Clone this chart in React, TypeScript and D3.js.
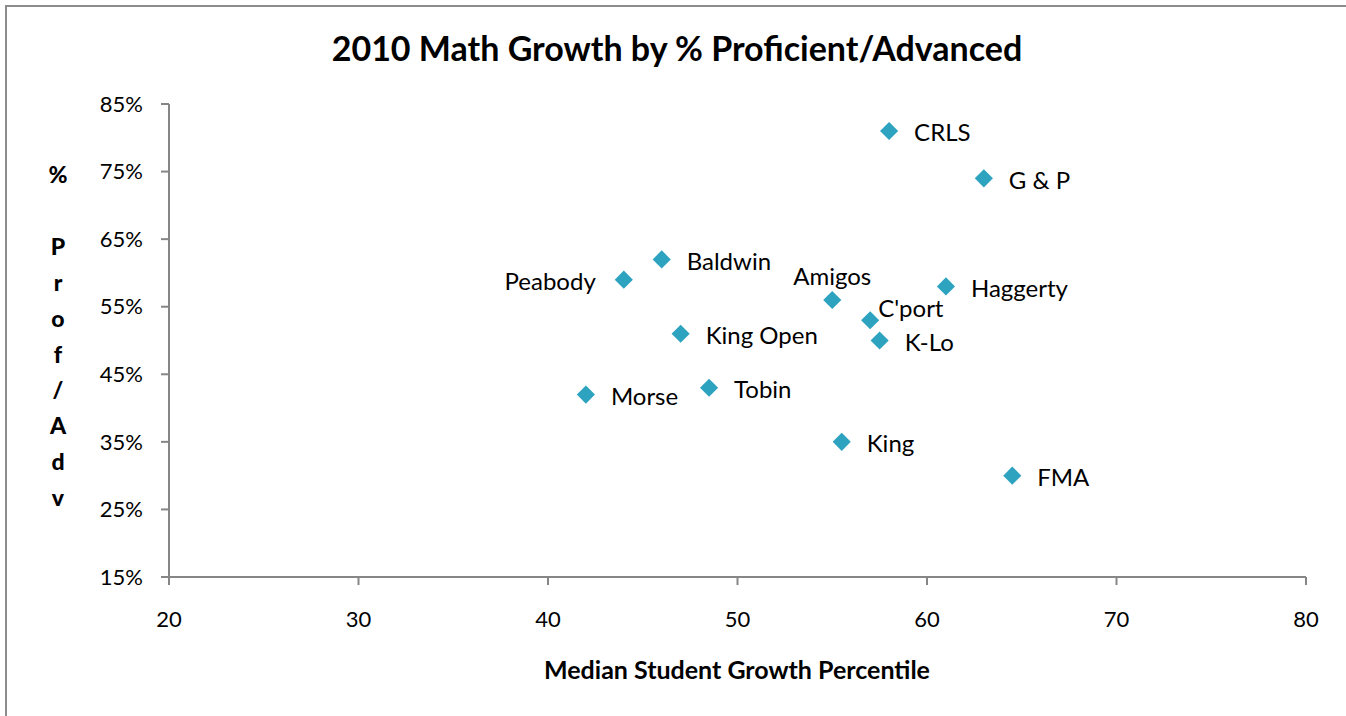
import React from "react";
import * as d3 from "d3";

const schools = ["CRLS", "G & P", "Baldwin", "Peabody", "Amigos", "Haggerty", "C'port", "King Open", "K-Lo", "Morse", "Tobin", "King", "FMA"];
const growth = [58, 63, 46, 44, 55, 61, 57, 47, 57.5, 42, 48.5, 55.5, 64.5];
const proficient = [0.81, 0.74, 0.62, 0.59, 0.56, 0.58, 0.53, 0.51, 0.50, 0.42, 0.43, 0.35, 0.30];
const xTicks = [20, 30, 40, 50, 60, 70, 80];
const yTicks = [0.15, 0.25, 0.35, 0.45, 0.55, 0.65, 0.75, 0.85];
const yAxisTitle = "% Prof/Adv";
const xAxisTitle = "Median Student Growth Percentile";
const chartTitle = "2010 Math Growth by % Proficient/Advanced";

// label placement: "right" default, others special
const labelPlacement: Record<string, string> = {
  Peabody: "left",
  Amigos: "above",
  "C'port": "aboveRight",
};

const W = 1346;
const H = 716;
const FONT = "Lato, 'Open Sans', sans-serif";

export default function App() {
  const x = d3.scaleLinear().domain([20, 80]).range([169, 1306]);
  const y = d3.scaleLinear().domain([0.15, 0.85]).range([577, 104]);
  const fmt = d3.format(".0%");
  const diamond = d3.symbol().type(d3.symbolDiamond2).size(210);
  const axisColor = "#868686";

  const yLetters = yAxisTitle.split("");

  return (
    <svg
      width={W}
      height={H}
      style={{ position: "absolute", left: 0, top: 0, background: "#fff" }}
      fontFamily={FONT}
    >
      <rect x={6} y={6} width={W + 20} height={H + 20} fill="#fff" stroke="#8c8c8c" strokeWidth={2} />
      <text x={677} y={61} textAnchor="middle" fontSize={34} fontWeight="bold" fill="#000">
        {chartTitle}
      </text>

      {/* y axis */}
      <line x1={x(20)} x2={x(20)} y1={y(0.85)} y2={y(0.15)} stroke={axisColor} strokeWidth={2} />
      {yTicks.map((t) => (
        <g key={t}>
          <line x1={x(20) - 8} x2={x(20)} y1={y(t)} y2={y(t)} stroke={axisColor} strokeWidth={2} />
          <text x={143} y={y(t)} dy="0.35em" textAnchor="end" fontSize={22} fill="#000">
            {fmt(t)}
          </text>
        </g>
      ))}

      {/* x axis */}
      <line x1={x(20)} x2={x(80)} y1={y(0.15)} y2={y(0.15)} stroke={axisColor} strokeWidth={2} />
      {xTicks.map((t) => (
        <g key={t}>
          <line x1={x(t)} x2={x(t)} y1={y(0.15)} y2={y(0.15) + 8} stroke={axisColor} strokeWidth={2} />
          <text x={x(t)} y={627} textAnchor="middle" fontSize={22} fill="#000">
            {t}
          </text>
        </g>
      ))}

      <text x={737} y={679} textAnchor="middle" fontSize={25} fontWeight="bold" fill="#000">
        {xAxisTitle}
      </text>

      {yLetters.map((c, i) => (
        <text key={i} x={58} y={175 + i * 35.9} dy="0.35em" textAnchor="middle" fontSize={23} fontWeight="900" fill="#000">
          {c}
        </text>
      ))}

      {schools.map((s, i) => {
        const px = x(growth[i]);
        const py = y(proficient[i]);
        const place = labelPlacement[s] || "right";
        let lx = px + 25;
        let ly = py + 2;
        let anchor = "start";
        if (place === "left") {
          lx = px - 28;
          anchor = "end";
        } else if (place === "above") {
          lx = px;
          ly = py - 23;
          anchor = "middle";
        } else if (place === "aboveRight") {
          lx = px + 8;
          ly = py - 12;
        }
        return (
          <g key={s}>
            <path d={diamond() as string} transform={`translate(${px},${py})`} fill="#2EA3BF" />
            <text x={lx} y={ly} dy="0.35em" textAnchor={anchor} fontSize={24} fill="#000">
              {s}
            </text>
          </g>
        );
      })}
    </svg>
  );
}
